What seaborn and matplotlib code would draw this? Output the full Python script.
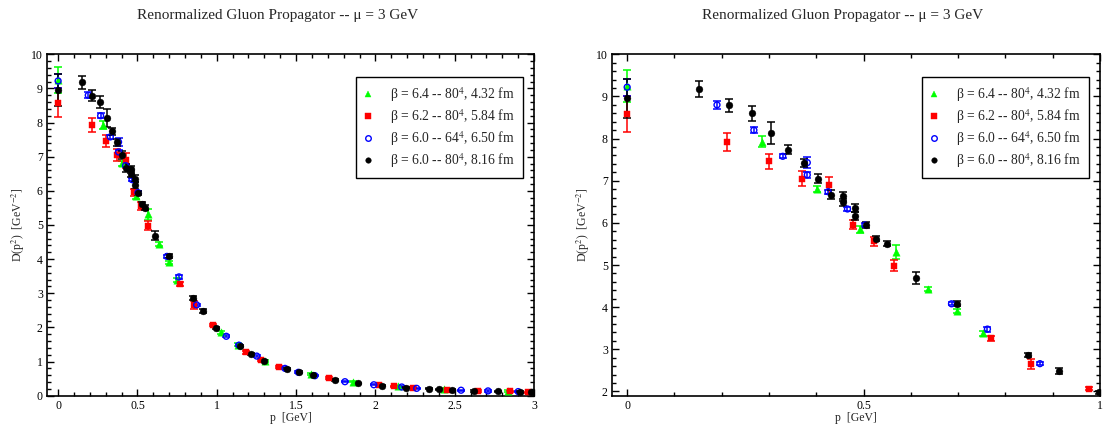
import matplotlib

matplotlib.use("Agg")
import matplotlib.pyplot as plt
from matplotlib.lines import Line2D
from matplotlib.ticker import MultipleLocator
import pandas as pd
import seaborn as sns

# beta = 6.4 -- 80^4, 4.32 fm
p_b64 = [0, 0.285, 0.402, 0.493, 0.569, 0.637, 0.697, 0.752, 1.027, 1.132, 1.306, 1.592, 1.861, 2.14, 2.43, 2.838]
d_b64 = [9.25, 7.93, 6.81, 5.85, 5.31, 4.44, 3.91, 3.38, 1.86, 1.49, 1.03, 0.635, 0.41, 0.27, 0.20, 0.14]
e_b64 = [0.37, 0.13, 0.07, 0.08, 0.17, 0.05, 0.05, 0.06, 0.04, 0.04, 0.03, 0.03, 0.02, 0.02, 0.02, 0.02]

# beta = 6.2 -- 80^4, 5.84 fm
p_b62 = [0, 0.212, 0.301, 0.370, 0.427, 0.477, 0.522, 0.564, 0.770, 0.854, 0.977, 1.187, 1.279, 1.395,
         1.706, 2.025, 2.12, 2.234, 2.449, 2.648, 2.85, 2.963]
d_b62 = [8.58, 7.92, 7.46, 7.05, 6.89, 5.96, 5.56, 4.98, 3.26, 2.65, 2.07, 1.27, 1.045, 0.85,
         0.51, 0.30, 0.275, 0.235, 0.18, 0.14, 0.13, 0.10]
e_b62 = [0.43, 0.21, 0.17, 0.17, 0.21, 0.10, 0.11, 0.13, 0.06, 0.12, 0.04, 0.04, 0.04, 0.03,
         0.03, 0.02, 0.02, 0.02, 0.02, 0.02, 0.02, 0.02]

# beta = 6.0 -- 64^4, 6.50 fm
p_b60s = [0, 0.190, 0.268, 0.329, 0.381, 0.381, 0.425, 0.466, 0.503, 0.686, 0.762, 0.873, 1.060, 1.14,
          1.252, 1.43, 1.514, 1.619, 1.808, 1.99, 2.166, 2.26, 2.54, 2.71, 2.90]
d_b60s = [9.22, 8.80, 8.20, 7.58, 7.43, 7.14, 6.74, 6.33, 5.95, 4.08, 3.48, 2.66, 1.74, 1.48,
          1.16, 0.80, 0.685, 0.585, 0.41, 0.32, 0.255, 0.215, 0.16, 0.14, 0.12]
e_b60s = [0.20, 0.09, 0.07, 0.05, 0.13, 0.07, 0.05, 0.05, 0.05, 0.04, 0.06, 0.04, 0.03, 0.03,
          0.03, 0.03, 0.03, 0.02, 0.02, 0.02, 0.02, 0.02, 0.02, 0.02, 0.02]

# beta = 6.0 -- 80^4, 8.16 fm
p_b60 = [0, 0.152, 0.215, 0.264, 0.305, 0.340, 0.374, 0.403, 0.431, 0.457, 0.457, 0.482, 0.482, 0.505,
         0.527, 0.550, 0.610, 0.698, 0.848, 0.914, 0.998, 1.147, 1.216, 1.298, 1.445, 1.518, 1.605,
         1.747, 1.892, 2.04, 2.19, 2.34, 2.403, 2.48, 2.62, 2.77, 2.91, 2.98]
d_b60 = [8.96, 9.18, 8.79, 8.60, 8.14, 7.74, 7.42, 7.05, 6.67, 6.63, 6.49, 6.36, 6.16, 5.95,
         5.62, 5.51, 4.69, 4.08, 2.86, 2.48, 1.98, 1.455, 1.22, 1.02, 0.77, 0.70, 0.60,
         0.46, 0.36, 0.29, 0.235, 0.205, 0.19, 0.18, 0.14, 0.13, 0.11, 0.11]
e_b60 = [0.46, 0.19, 0.15, 0.18, 0.26, 0.10, 0.10, 0.11, 0.11, 0.10, 0.08, 0.10, 0.10, 0.06,
         0.06, 0.07, 0.14, 0.06, 0.05, 0.07, 0.04, 0.04, 0.04, 0.03, 0.03, 0.03, 0.03,
         0.02, 0.02, 0.02, 0.02, 0.02, 0.02, 0.02, 0.02, 0.02, 0.02, 0.02]

labels = [r"β = 6.4 -- 80$^4$, 4.32 fm", r"β = 6.2 -- 80$^4$, 5.84 fm",
          r"β = 6.0 -- 64$^4$, 6.50 fm", r"β = 6.0 -- 80$^4$, 8.16 fm"]
title = "Renormalized Gluon Propagator -- μ = 3 GeV"

series = [
    (p_b64, d_b64, e_b64, "#00ff00", "^", True),
    (p_b62, d_b62, e_b62, "#ff0000", "s", True),
    (p_b60s, d_b60s, e_b60s, "#0000ff", "o", False),
    (p_b60, d_b60, e_b60, "#000000", "o", True),
]

sns.set_theme(style="ticks")
plt.rcParams["font.family"] = ["Liberation Serif", "DejaVu Serif"]
plt.rcParams["mathtext.fontset"] = "stix"
plt.rcParams.update({
    "xtick.direction": "in", "ytick.direction": "in",
    "xtick.top": True, "ytick.right": True,
    "xtick.major.size": 5, "ytick.major.size": 5,
    "xtick.minor.size": 2.8, "ytick.minor.size": 2.8,
    "xtick.major.width": 1, "ytick.major.width": 1,
    "xtick.minor.width": 1, "ytick.minor.width": 1,
    "xtick.major.pad": 3, "ytick.major.pad": 3,
    "axes.linewidth": 1.2, "axes.edgecolor": "black",
    "xtick.color": "black", "ytick.color": "black",
})

fig = plt.figure(figsize=(11.14, 4.30), dpi=100)
ax_l = fig.add_axes([0.0422, 0.0798, 0.4372, 0.7939])
ax_r = fig.add_axes([0.5494, 0.0798, 0.4380, 0.7939])


def draw(ax):
    for p, d, e, col, mk, filled in series:
        ax.errorbar(p, d, yerr=e, fmt="none", ecolor=col, elinewidth=1.1, capsize=3, capthick=1.1, zorder=2)
        df = pd.DataFrame({"p": p, "D": d})
        if filled:
            sns.scatterplot(data=df, x="p", y="D", ax=ax, marker=mk, color=col, s=24 if mk != "^" else 28,
                            edgecolor=col, linewidth=0.3, zorder=3, legend=False)
        else:
            sns.scatterplot(data=df, x="p", y="D", ax=ax, marker=mk, facecolor="none", s=18,
                            edgecolor=col, linewidth=1.0, zorder=3, legend=False)
    ax.set_xlabel("p  [GeV]", fontsize=8.5, labelpad=0)
    ax.set_ylabel(r"D(p$^2$)  [GeV$^{-2}$]", fontsize=8.5, labelpad=3)
    ax.tick_params(labelsize=8.5)
    ax.yaxis.set_major_locator(MultipleLocator(1))
    ax.yaxis.set_minor_locator(MultipleLocator(0.2))
    ax.xaxis.set_minor_locator(MultipleLocator(0.1))
    ax.xaxis.set_major_locator(MultipleLocator(0.5))
    ax.xaxis.set_major_formatter(matplotlib.ticker.FuncFormatter(lambda v, _: f"{v:g}"))
    handles = [Line2D([], [], ls="none", marker=mk, color=col, markersize=4,
                      markerfacecolor=col if filled else "none", markeredgewidth=1.0 if not filled else 0.3)
               for _, _, _, col, mk, filled in series]
    leg = ax.legend(handles, labels, loc="upper right", bbox_to_anchor=(0.977, 0.933), fontsize=9.8,
                    frameon=True, fancybox=False, edgecolor="black", framealpha=1, labelspacing=0.22,
                    handlelength=0.6, handletextpad=1.3, borderpad=0.6, borderaxespad=0)
    leg.get_frame().set_linewidth(1.0)
    fig.text((ax.get_position().x0 + ax.get_position().x1) / 2 - 0.012, 0.965, title,
             ha="center", va="center", fontsize=11)


draw(ax_l)
ax_l.set_xlim(-0.07, 3.0)
ax_l.set_ylim(0, 10)

draw(ax_r)
ax_r.set_xlim(-0.032, 1.0)
ax_r.set_ylim(1.9, 10)
ax_r.yaxis.set_major_locator(MultipleLocator(1))

fig.savefig("out.png", dpi=100)
